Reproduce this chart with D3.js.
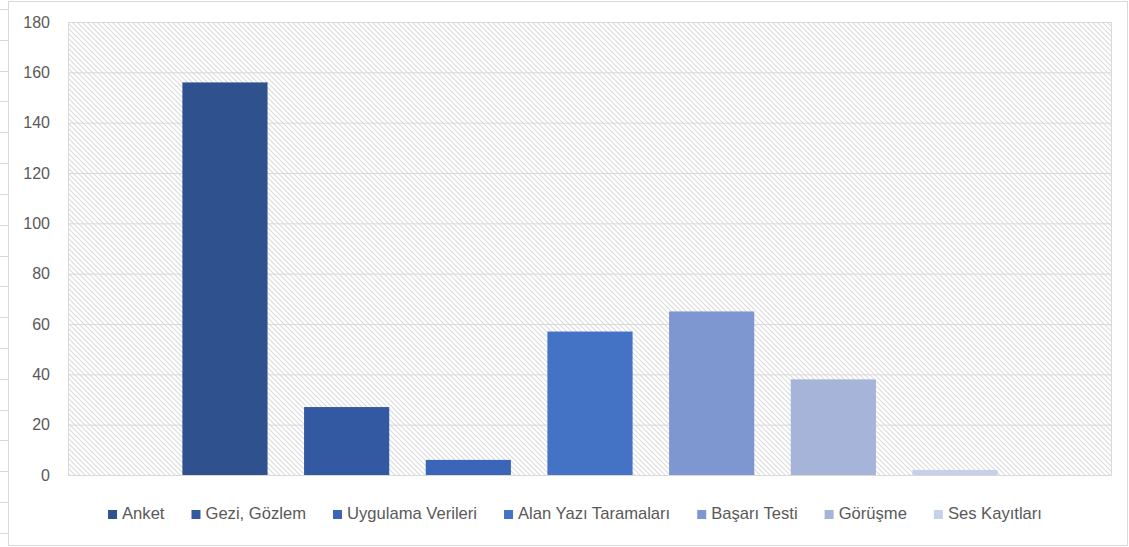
<!DOCTYPE html>
<html>
<head>
<meta charset="utf-8">
<script src="https://cdn.jsdelivr.net/npm/d3@7"></script>
<style>
  html, body { margin: 0; padding: 0; background: #fff; }
  svg { display: block; font-family: "Liberation Sans", Arial, sans-serif; }
</style>
</head>
<body>
<svg id="chart" width="1129" height="547"></svg>
<script>
// Data
const categories = ["Anket", "Gezi, Gözlem", "Uygulama Verileri", "Alan Yazı Taramaları", "Başarı Testi", "Görüşme", "Ses Kayıtları"];
const values = [156, 27, 6, 57, 65, 38, 2];
const yTicks = [0, 20, 40, 60, 80, 100, 120, 140, 160, 180];

// Palette (one shade per series)
const palette = ["#2f528f", "#3359a3", "#3a65b8", "#4472c4", "#7f97d1", "#a6b4da", "#c7d0eb"];

const W = 1129, H = 547;
const plot = { left: 68, right: 1112, top: 22, bottom: 475 };
const textColor = "#595959";
const lineColor = "#d9d9d9";

const svg = d3.select("#chart");

// Diagonal hatch for the plot background
const defs = svg.append("defs");
const pat = defs.append("pattern")
  .attr("id", "hatch")
  .attr("patternUnits", "userSpaceOnUse")
  .attr("width", 5).attr("height", 5);
pat.append("rect").attr("width", 5).attr("height", 5).attr("fill", "#fff");
pat.append("path")
  .attr("d", "M-1,-1 L6,6 M-1,4 L1,6 M4,-1 L6,1")
  .attr("stroke", "#dcdcdc").attr("stroke-width", 1.1);

// Outer chart frame
svg.append("rect")
  .attr("x", 8.5).attr("y", 1.5)
  .attr("width", W - 10).attr("height", 544)
  .attr("fill", "none").attr("stroke", lineColor);

// Row marks along the left edge
const rowMarks = d3.range(0, 18).map(k => 9 + k * 30.82);
svg.append("g").selectAll("line").data(rowMarks).join("line")
  .attr("x1", 0).attr("x2", 8)
  .attr("y1", d => Math.round(d) + 0.5).attr("y2", d => Math.round(d) + 0.5)
  .attr("stroke", lineColor);

// Scales
const y = d3.scaleLinear().domain([0, 180]).range([plot.bottom, plot.top]);
const x = d3.scaleBand()
  .domain(categories)
  .range([plot.left, plot.right])
  .paddingInner(0.30)
  .paddingOuter(0.94);

// Plot area background
svg.append("rect")
  .attr("x", plot.left).attr("y", plot.top)
  .attr("width", plot.right - plot.left).attr("height", plot.bottom - plot.top)
  .attr("fill", "url(#hatch)");

// Gridlines
const yAxis = d3.axisLeft(y).tickValues(yTicks).tickSize(-(plot.right - plot.left)).tickPadding(18);
const gAxis = svg.append("g")
  .attr("transform", `translate(${plot.left},0)`)
  .call(yAxis);
gAxis.select(".domain").remove();
gAxis.selectAll(".tick line").attr("stroke", lineColor).attr("stroke-width", 1);
gAxis.selectAll(".tick text")
  .attr("fill", textColor)
  .attr("font-size", 16)
  .attr("font-family", "\"Liberation Sans\", Arial, sans-serif");

// Plot border
svg.append("rect")
  .attr("x", plot.left + 0.5).attr("y", plot.top + 0.5)
  .attr("width", plot.right - plot.left - 1).attr("height", plot.bottom - plot.top)
  .attr("fill", "none").attr("stroke", lineColor);

// Bars
svg.append("g").selectAll("rect").data(categories).join("rect")
  .attr("x", d => x(d))
  .attr("width", x.bandwidth())
  .attr("y", (d, i) => y(values[i]))
  .attr("height", (d, i) => y(0) - y(values[i]))
  .attr("fill", (d, i) => palette[i]);

// Legend
const legendY = 515;
const legend = svg.append("g").attr("font-size", 16.6).attr("fill", textColor);
const items = legend.selectAll("g").data(categories).join("g");
items.append("rect")
  .attr("width", 9).attr("height", 9)
  .attr("y", legendY - 5)
  .attr("fill", (d, i) => palette[i]);
items.append("text")
  .attr("x", 14)
  .attr("y", legendY)
  .attr("dominant-baseline", "middle")
  .text(d => d);

const widths = [];
items.each(function () {
  widths.push(14 + d3.select(this).select("text").node().getComputedTextLength());
});
const gap = 27;
const total = d3.sum(widths) + gap * (widths.length - 1);
let cx = 575 - total / 2;
items.each(function (d, i) {
  d3.select(this).attr("transform", `translate(${cx},0)`);
  cx += widths[i] + gap;
});
</script>
</body>
</html>
